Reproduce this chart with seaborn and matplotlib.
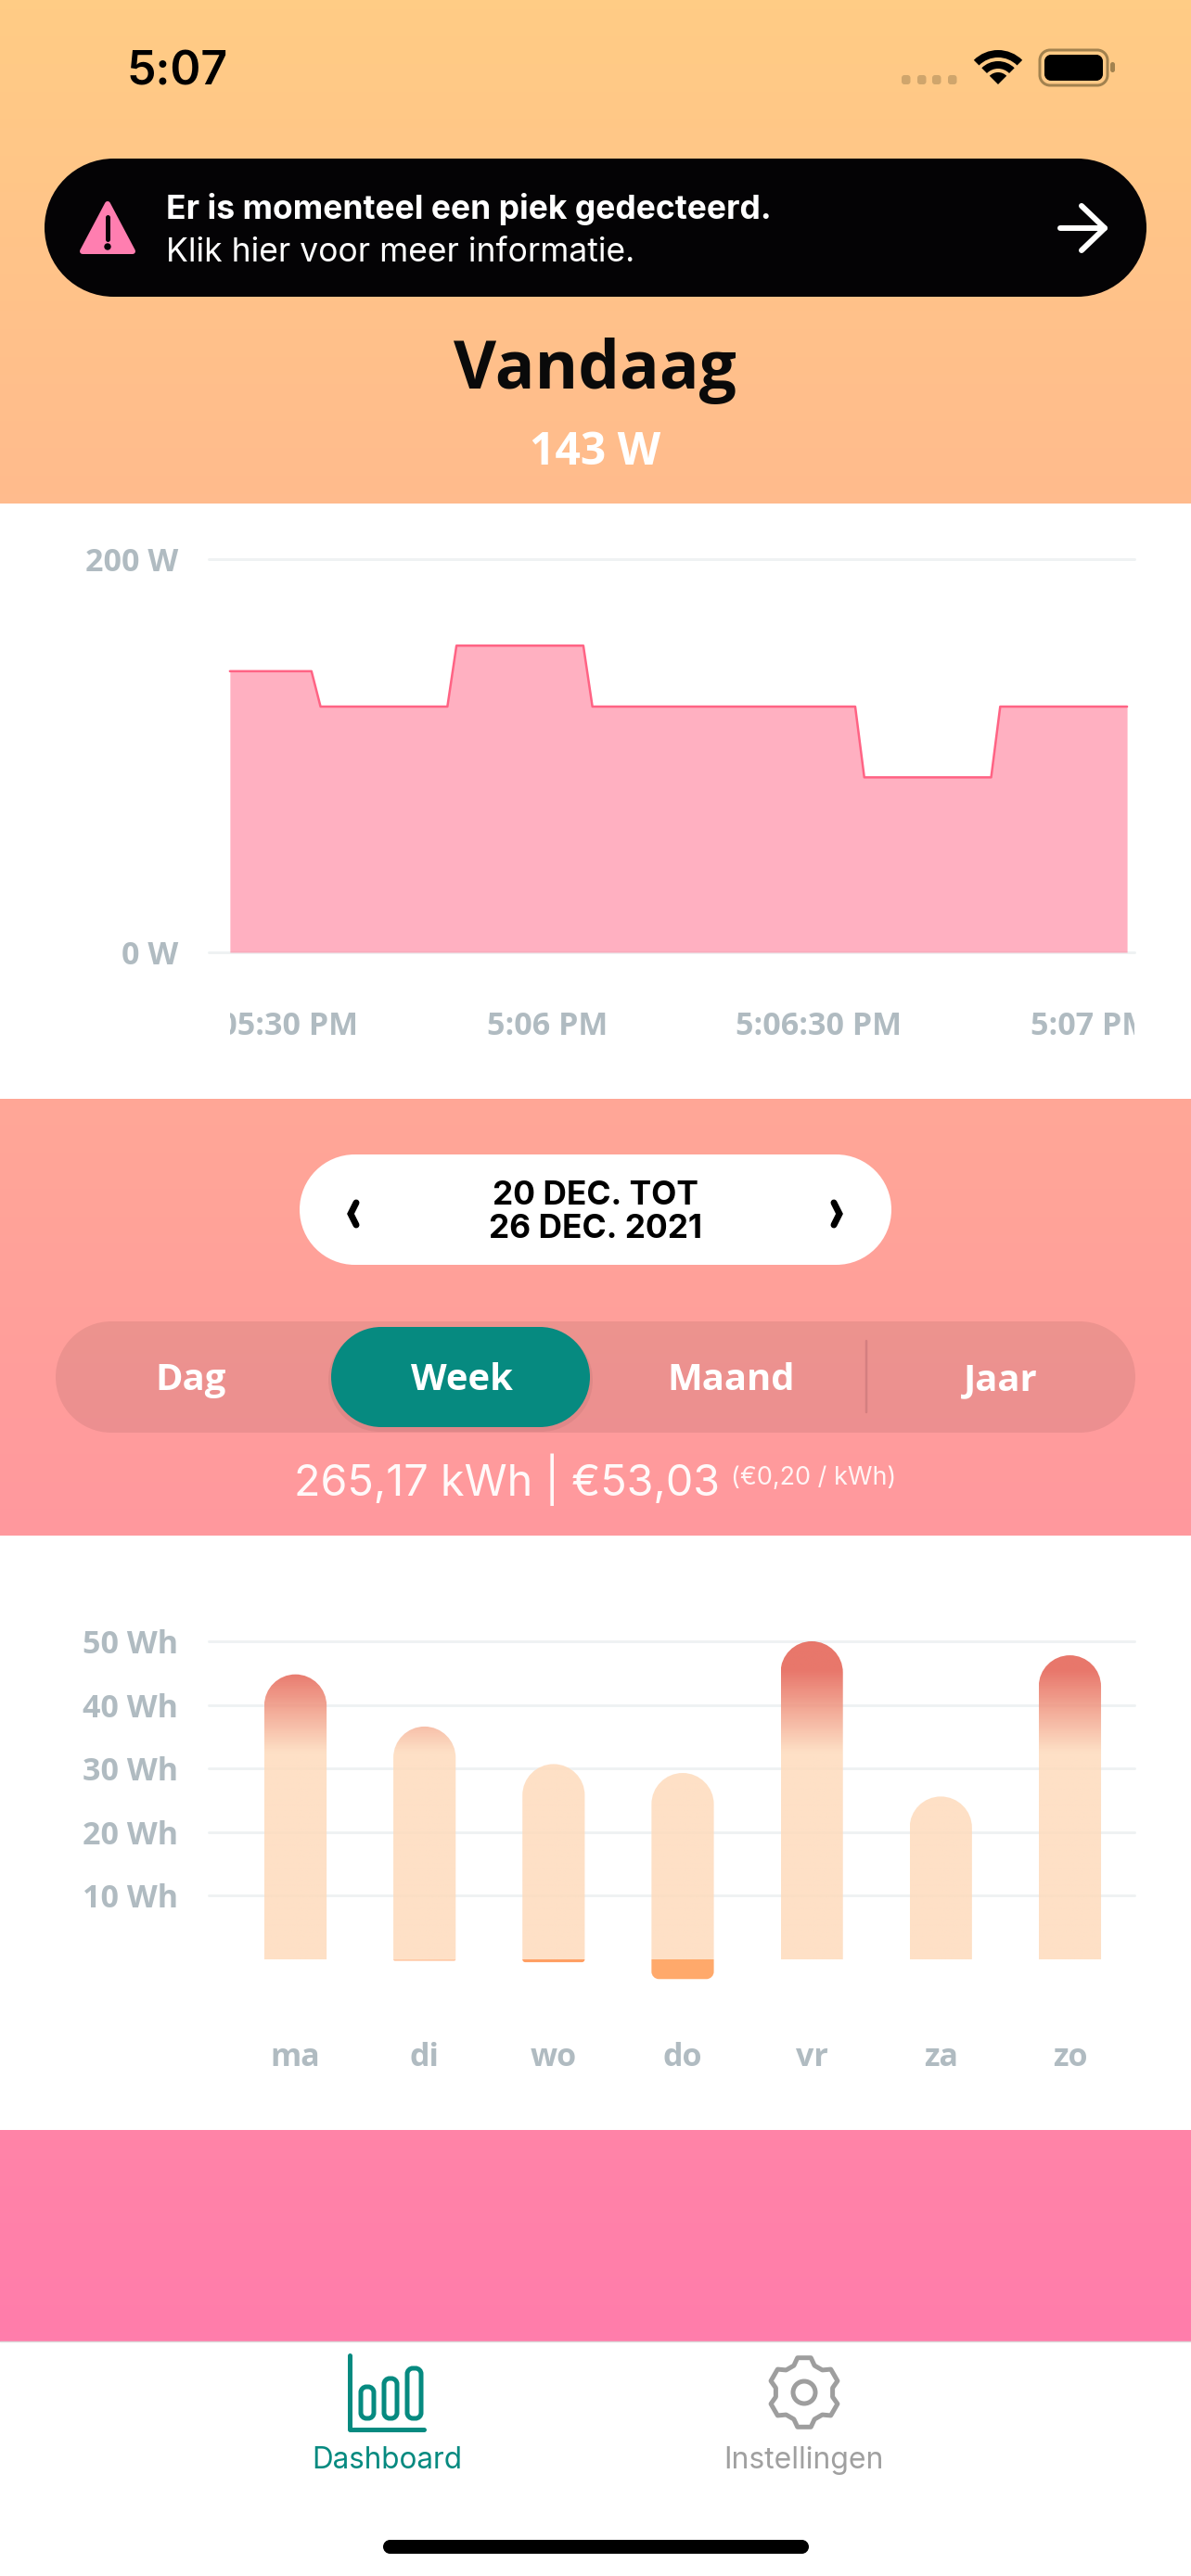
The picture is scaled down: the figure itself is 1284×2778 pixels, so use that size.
import numpy as np
import pandas as pd
import matplotlib
matplotlib.use("Agg")
import matplotlib.pyplot as plt
import seaborn as sns
from matplotlib.colors import LinearSegmentedColormap
from matplotlib.patches import PathPatch, Polygon, Rectangle, Wedge, Circle
from matplotlib.path import Path
from matplotlib.transforms import Bbox

W, H = 1284, 2778

# vermogen vandaag (seconden sinds 5:00 PM, watt)
tijd = [325, 334, 335, 349, 350, 364, 365, 394, 395, 409, 410, 424]
vermogen = [143, 143, 125, 125, 156, 156, 125, 125, 89, 89, 125, 125]
tijd_ticks = [330, 360, 390, 420]
tijd_labels = ["5:05:30 PM", "5:06 PM", "5:06:30 PM", "5:07 PM"]
vermogen_ticks = [0, 200]
vermogen_labels = ["0 W", "200 W"]

# verbruik per dag (Wh)
dagen = ["ma", "di", "wo", "do", "vr", "za", "zo"]
verbruik = [44.8, 36.6, 30.7, 29.3, 50.0, 25.6, 47.8]
injectie = [0, -0.25, -0.45, -3.1, 0, 0, 0]
injectie_kleuren = ["#FFC9A6", "#FFC9A6", "#FF9F63", "#FFA96B", "#FFC9A6", "#FFC9A6", "#FFC9A6"]
verbruik_ticks = [10, 20, 30, 40, 50]
verbruik_labels = ["10 Wh", "20 Wh", "30 Wh", "40 Wh", "50 Wh"]

periodes = ["Dag", "Week", "Maand", "Jaar"]
periode_x = [206, 498, 788, 1079]

GRIJS = "#B0BBC1"
GRID = "#EFF2F3"
TEAL = "#068A80"
UI = "Open Sans"
SYS = "Inter"

sns.set_theme(style="white")
plt.rcParams["font.family"] = [UI, "DejaVu Sans"]


def pt(px):
    return px * 0.72


def pill(ax, x0, y0, x1, y1, r=None, **kw):
    r = (y1 - y0) / 2 if r is None else r
    c = r * (1 - 0.5523)
    punten = [(x0 + r, y0), (x1 - r, y0),
              (x1 - c, y0), (x1, y0 + c), (x1, y0 + r),
              (x1, y1 - r),
              (x1, y1 - c), (x1 - c, y1), (x1 - r, y1),
              (x0 + r, y1),
              (x0 + c, y1), (x0, y1 - c), (x0, y1 - r),
              (x0, y0 + r),
              (x0, y0 + c), (x0 + c, y0), (x0 + r, y0),
              (x0 + r, y0)]
    codes = [Path.MOVETO, Path.LINETO, Path.CURVE4, Path.CURVE4, Path.CURVE4, Path.LINETO,
             Path.CURVE4, Path.CURVE4, Path.CURVE4, Path.LINETO, Path.CURVE4, Path.CURVE4, Path.CURVE4,
             Path.LINETO, Path.CURVE4, Path.CURVE4, Path.CURVE4, Path.CLOSEPOLY]
    p = PathPatch(Path(punten, codes), linewidth=kw.pop("linewidth", 0), **kw)
    ax.add_patch(p)
    return p


def px_axes(l, t, r, b):
    a = fig.add_axes([l / W, 1 - b / H, (r - l) / W, (b - t) / H])
    a.patch.set_alpha(0)
    return a


def rond_pad(x0, x1, basis, top, rx, ry):
    s = 1 if top > basis else -1
    k = 0.5523
    punten = [(x0, basis), (x0, top - s * ry),
              (x0, top - s * ry * (1 - k)), (x0 + rx * (1 - k), top), (x0 + rx, top),
              (x1 - rx, top),
              (x1 - rx * (1 - k), top), (x1, top - s * ry * (1 - k)), (x1, top - s * ry),
              (x1, basis), (x0, basis)]
    codes = [Path.MOVETO, Path.LINETO, Path.CURVE4, Path.CURVE4, Path.CURVE4, Path.LINETO,
             Path.CURVE4, Path.CURVE4, Path.CURVE4, Path.LINETO, Path.CLOSEPOLY]
    return Path(punten, codes)


fig = plt.figure(figsize=(W / 100, H / 100), dpi=100, facecolor="white")

# achtergrond in pixels
bg = fig.add_axes([0, 0, 1, 1])
bg.set_xlim(0, W)
bg.set_ylim(H, 0)
bg.axis("off")
verloop = LinearSegmentedColormap.from_list("achtergrond", ["#FFCC85", "#FF7DAB"])
bg.imshow(np.linspace(0, 1, 256).reshape(-1, 1), cmap=verloop, extent=(0, W, 2525, 0), aspect="auto", zorder=0)
bg.set_xlim(0, W)
bg.set_ylim(H, 0)
for y0, y1 in [(543, 1185), (1656, 2297), (2525, H)]:
    bg.add_patch(Rectangle((0, y0), W, y1 - y0, color="white", zorder=1, linewidth=0))
bg.plot([0, W], [2525, 2525], color="#DADADA", lw=1, zorder=2)

# statusbalk
bg.text(136, 91, "5:07", family=SYS, fontsize=pt(50), fontweight="semibold", color="#000000", va="baseline", ha="left")
for x in [972, 989, 1005, 1022]:
    pill(bg, x, 81, x + 9.5, 91, r=3, color="#CFA56C", zorder=3)
for r, b in [(37, 8), (25, 8), (13, 13)]:
    bg.add_patch(Wedge((1076, 91), r, 225, 315, width=b, color="black", linewidth=0, zorder=3))
pill(bg, 1121, 54, 1194, 92, r=11, facecolor="none", edgecolor="#A2824F", linewidth=pt(3), zorder=3)
pill(bg, 1126, 59, 1189, 87, r=7, color="black", zorder=3)
pill(bg, 1197, 67, 1202, 78, r=2.5, color="#A2824F", zorder=3)

# melding
pill(bg, 48, 171, 1236, 320, color="#040305", zorder=3)
bg.add_patch(Polygon([(116, 220), (89, 271), (143, 271)], closed=True, facecolor="#FF7EB0", edgecolor="#FF7EB0",
                     linewidth=pt(6), joinstyle="round", zorder=4))
bg.plot([116, 116], [234, 258], color="#040305", lw=pt(5), solid_capstyle="round", zorder=5)
bg.add_patch(Circle((116, 266), 3, color="#040305", zorder=5))
bg.text(179, 236, "Er is momenteel een piek gedecteerd.", family=SYS, fontsize=pt(35.5), fontweight="bold", color="white",
        va="baseline", ha="left", zorder=5)
bg.text(179, 282, "Klik hier voor meer informatie.", family=SYS, fontsize=pt(35.5), color="white",
        va="baseline", ha="left", zorder=5)
bg.plot([1143, 1191], [246, 246], color="white", lw=pt(6), solid_capstyle="round", zorder=5)
bg.plot([1166, 1191, 1166], [222, 246, 270], color="white", lw=pt(6), solid_capstyle="round", solid_joinstyle="round", zorder=5)

bg.text(641, 419, "Vandaag", fontsize=51, fontweight="bold", color="#0A0A0A", va="baseline", ha="center", zorder=5)
bg.text(642, 501, "143 W", fontsize=pt(48), fontweight="bold", color="white", va="baseline", ha="center", zorder=5)

# datumkiezer
pill(bg, 323, 1245, 961, 1364, color="white", zorder=3)
bg.text(642, 1299, "20 DEC. TOT", family=SYS, fontsize=pt(35.3), fontweight="bold", color="black", va="baseline", ha="center", zorder=4)
bg.text(642, 1335, "26 DEC. 2021", family=SYS, fontsize=pt(35.3), fontweight="bold", color="black", va="baseline", ha="center", zorder=4)
bg.plot([384, 378, 384], [1297, 1309, 1321], color="black", lw=pt(7), solid_joinstyle="miter", zorder=4)
bg.plot([899, 905, 899], [1297, 1309, 1321], color="black", lw=pt(7), solid_joinstyle="miter", zorder=4)

# periode
pill(bg, 60, 1425, 1224, 1545, color="black", alpha=0.075, zorder=3)
pill(bg, 354, 1433, 639, 1544, color="black", alpha=0.05, zorder=3)
pill(bg, 357, 1431, 636, 1539, color=TEAL, zorder=4)
bg.plot([934, 934], [1446, 1523], color="#D47F80", lw=pt(2.5), zorder=4)
for naam, x in zip(periodes, periode_x):
    bg.text(x, 1499, naam, fontsize=pt(40), fontweight="bold", color="white", va="baseline", ha="center", zorder=5)

bg.text(317, 1613, "265,17 kWh | €53,03", family=SYS, fontsize=pt(46.7), color="white", alpha=0.95, va="baseline", ha="left", zorder=5)
bg.text(788, 1601, "(€0,20 / kWh)", family=SYS, fontsize=pt(27), color="white", alpha=0.9, va="baseline", ha="left", zorder=5)

# tabbalk
for x0, y0, x1 in [(387, 2572, 405), (412, 2563, 430), (437, 2552, 456)]:
    pill(bg, x0 + 2, y0 + 2, x1 - 2, 2608, r=6, facecolor="none", edgecolor=TEAL, linewidth=pt(5), zorder=3)
bg.plot([377, 377, 457], [2540, 2620, 2620], color=TEAL, lw=pt(5), solid_capstyle="round", solid_joinstyle="round", zorder=3)
bg.text(417, 2662, "Dashboard", family=SYS, fontsize=pt(31.5), color=TEAL, va="baseline", ha="center", zorder=3)
bg.text(866, 2662, "Instellingen", family=SYS, fontsize=pt(32), color="#A0A0A0", va="baseline", ha="center", zorder=3)

tand = []
for hoek in np.deg2rad(np.arange(-90, 270, 60)):
    for d, r in [(-21, 31), (-11, 38), (11, 38), (21, 31)]:
        a = hoek + np.deg2rad(d)
        tand.append((867 + r * np.cos(a), 2580 + r * np.sin(a)))
bg.add_patch(Polygon(tand, closed=True, facecolor="none", edgecolor="#9E9E9E", linewidth=pt(5), joinstyle="round", zorder=3))
bg.add_patch(Circle((867, 2580), 12, facecolor="none", edgecolor="#9E9E9E", linewidth=pt(5), zorder=3))

pill(bg, 413, 2739, 872, 2754, color="black", zorder=3)

# grafiek vermogen
ax1 = px_axes(225, 603, 1223, 1027)
ax1.fill_between(tijd, vermogen, 0, color="#FF6384", alpha=0.5, linewidth=0, zorder=2)
sns.lineplot(x=tijd, y=vermogen, sort=False, errorbar=None, color="#FF6384", linewidth=pt(2.5), ax=ax1, zorder=3)
ax1.set_xlim(322.66, 424.81)
ax1.set_ylim(0, 200)
ax1.set_yticks(vermogen_ticks, vermogen_labels)
ax1.set_xticks(tijd_ticks, tijd_labels)

# grafiek verbruik
ax2 = px_axes(225, 1770, 1223, 2147.3)
sns.barplot(x=dagen, y=verbruik, width=0.483, color="#FDE0C6", saturation=1, ax=ax2, zorder=2)
sns.barplot(x=dagen, y=injectie, hue=dagen, palette=injectie_kleuren, legend=False, width=0.483, saturation=1, ax=ax2, zorder=2)
ax2.set_xlim(-0.672, 6.5)
ax2.set_ylim(-5, 50)
ax2.set_yticks(verbruik_ticks, verbruik_labels)

# px per eenheid, voor ronde hoeken
px_x = 139.2
px_y = 6.86
verloop_bar = LinearSegmentedColormap.from_list("balk", [(0, "#FEDBBC"), (32.5 / 50, "#FEDBBC"), (45.5 / 50, "#E45E50"), (1, "#E45E50")])
waarden = np.linspace(50, 0, 400).reshape(-1, 1) / 50
for bar in ax2.containers[0]:
    x0, x1, h = bar.get_x(), bar.get_x() + bar.get_width(), bar.get_height()
    bar.set_visible(False)
    vorm = PathPatch(rond_pad(x0, x1, 0, h, (x1 - x0) / 2, (x1 - x0) / 2 * px_x / px_y), transform=ax2.transData,
                     facecolor="none", linewidth=0)
    im = ax2.imshow(waarden, cmap=verloop_bar, vmin=0, vmax=1, extent=(x0, x1, 0, 50), aspect="auto", alpha=0.85, zorder=2,
                    interpolation="bilinear")
    im.set_clip_path(vorm)
for cont in ax2.containers[1:]:
    for bar in cont:
        h = bar.get_height()
        if h == 0:
            bar.set_visible(False)
            continue
        x0, x1 = bar.get_x(), bar.get_x() + bar.get_width()
        r = min(8, abs(h) * px_y)
        bar.set_visible(False)
        ax2.add_patch(PathPatch(rond_pad(x0, x1, 0, h, r / px_x, r / px_y), facecolor=bar.get_facecolor(), linewidth=0, zorder=2))
ax2.set_xlim(-0.672, 6.5)
ax2.set_ylim(-5, 50)

for ax in [ax1, ax2]:
    sns.despine(ax=ax, left=True, bottom=True)
    ax.set_xlabel("")
    ax.set_ylabel("")
    ax.set_axisbelow(True)
    ax.grid(axis="y", color=GRID, linewidth=pt(3), clip_on=False)
    ax.grid(axis="x", visible=False)
    ax.tick_params(axis="y", length=0, pad=pt(33), labelsize=pt(34), labelcolor=GRIJS)
    ax.tick_params(axis="x", length=0, labelsize=pt(34), labelcolor=GRIJS)
    for lab in ax.get_xticklabels() + ax.get_yticklabels():
        lab.set_fontweight("bold")

ax1.tick_params(axis="x", pad=pt(63))
ax2.tick_params(axis="x", pad=pt(55))
ax2.set_xticks(range(len(dagen)), dagen)

# tijdlabels lopen af bij de rand van de grafiek
rand = Bbox([[248, 0], [1223, H]])
for lab in ax1.get_xticklabels():
    lab.set_clip_box(rand)
    lab.set_clip_on(True)

fig.savefig("out.png", dpi=100)
